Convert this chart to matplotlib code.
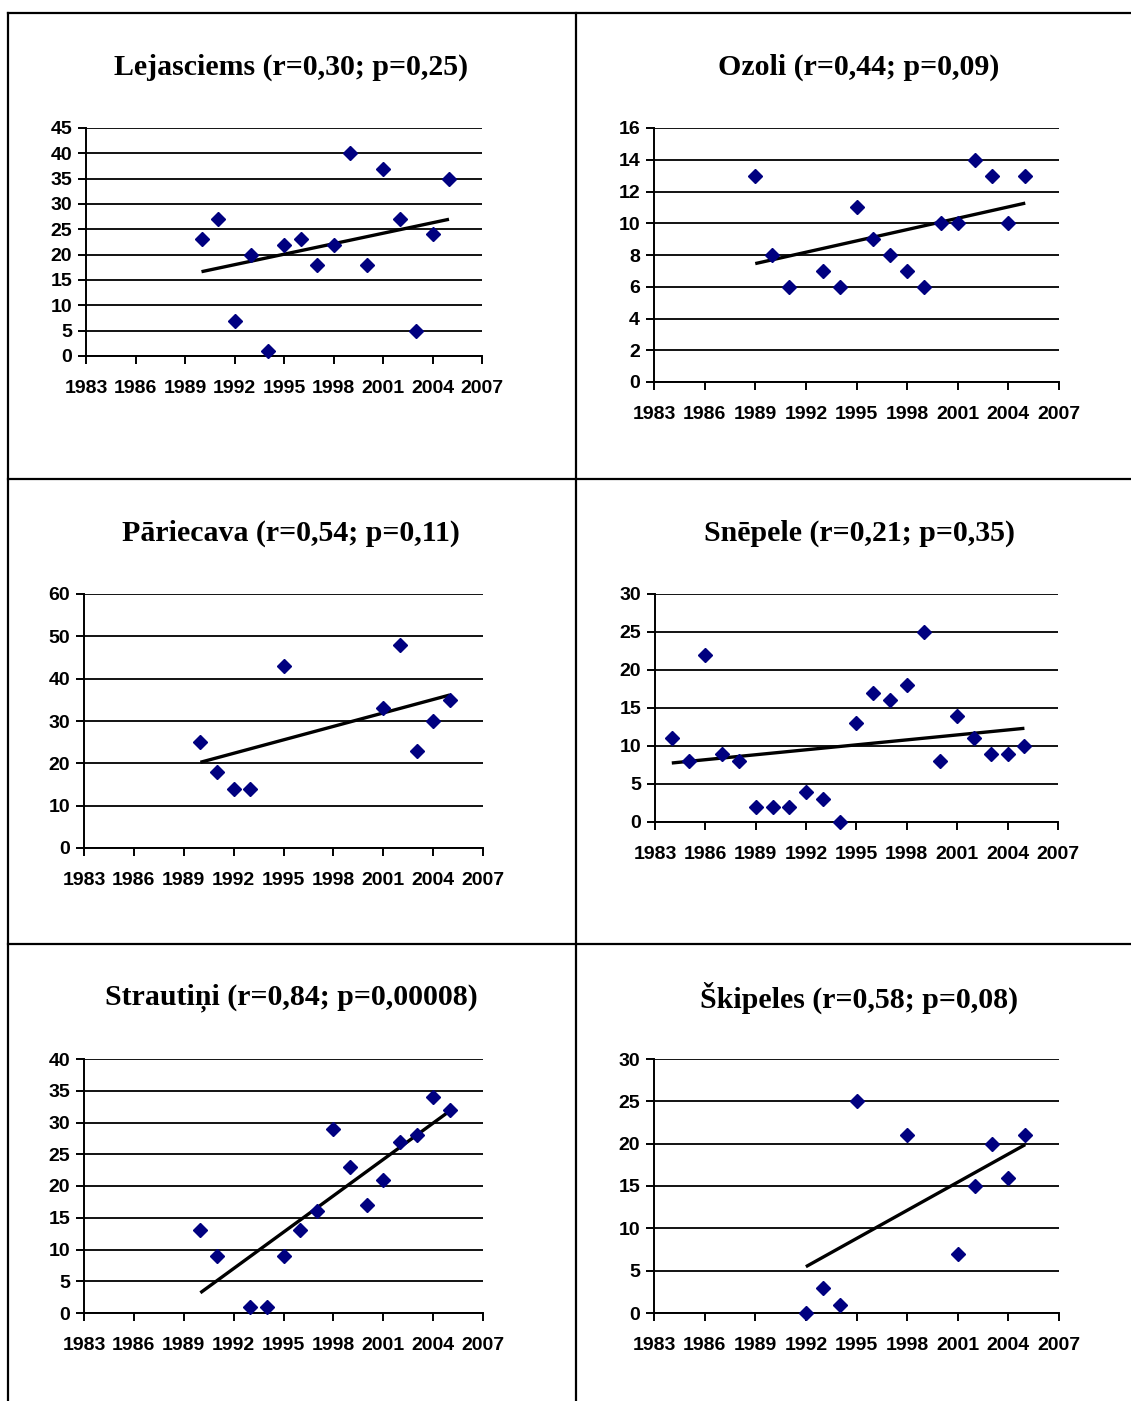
import numpy as np
import matplotlib
matplotlib.use("Agg")
import matplotlib.pyplot as plt
from matplotlib.lines import Line2D

# ---- data ----
lej_years = [1990, 1991, 1992, 1993, 1994, 1995, 1996, 1997, 1998, 1999, 2000, 2001, 2002, 2003, 2004, 2005]
lej_vals = [23, 27, 7, 20, 1, 22, 23, 18, 22, 40, 18, 37, 27, 5, 24, 35]

ozo_years = [1989, 1990, 1991, 1993, 1994, 1995, 1996, 1997, 1998, 1999, 2000, 2001, 2002, 2003, 2004, 2005]
ozo_vals = [13, 8, 6, 7, 6, 11, 9, 8, 7, 6, 10, 10, 14, 13, 10, 13]

par_years = [1990, 1991, 1992, 1993, 1995, 2001, 2002, 2003, 2004, 2005]
par_vals = [25, 18, 14, 14, 43, 33, 48, 23, 30, 35]

sne_years = [1984, 1985, 1986, 1987, 1988, 1989, 1990, 1991, 1992, 1993, 1994,
             1995, 1996, 1997, 1998, 1999, 2000, 2001, 2002, 2003, 2004, 2005]
sne_vals = [11, 8, 22, 9, 8, 2, 2, 2, 4, 3, 0, 13, 17, 16, 18, 25, 8, 14, 11, 9, 9, 10]

str_years = [1990, 1991, 1993, 1994, 1995, 1996, 1997, 1998, 1999, 2000, 2001, 2002, 2003, 2004, 2005]
str_vals = [13, 9, 1, 1, 9, 13, 16, 29, 23, 17, 21, 27, 28, 34, 32]

ski_years = [1992, 1993, 1994, 1995, 1998, 2001, 2002, 2003, 2004, 2005]
ski_vals = [0, 3, 1, 25, 21, 7, 15, 20, 16, 21]

titles = ["Lejasciems (r=0,30; p=0,25)", "Ozoli (r=0,44; p=0,09)",
          "Pāriecava (r=0,54; p=0,11)", "Snēpele (r=0,21; p=0,35)",
          "Strautiņi (r=0,84; p=0,00008)", "Škipeles (r=0,58; p=0,08)"]
x_ticks = [1983, 1986, 1989, 1992, 1995, 1998, 2001, 2004, 2007]
y_max = [45, 16, 60, 30, 40, 30]
y_step = [5, 2, 10, 5, 5, 5]

series = [(lej_years, lej_vals), (ozo_years, ozo_vals), (par_years, par_vals),
          (sne_years, sne_vals), (str_years, str_vals), (ski_years, ski_vals)]

# ---- layout (pixels) ----
W, H = 1131, 1401
fig = plt.figure(figsize=(W / 100, H / 100), dpi=100)

# axes rectangles: left, right, top, bottom in pixels
rects = [(86, 482, 128, 356), (654, 1059, 128, 382),
         (84, 483, 594, 848), (655, 1058, 594, 822),
         (84, 483, 1059, 1313), (654, 1059, 1059, 1313)]
title_pos = [(291, 67), (859, 67), (291, 533), (859, 533), (291, 998), (859, 998)]

for i, ((xs, ys), (l, r, t, b)) in enumerate(zip(series, rects)):
    ax = fig.add_axes([l / W, 1 - b / H, (r - l) / W, (b - t) / H])
    ax.set_xlim(1983, 2007)
    ax.set_ylim(0, y_max[i])
    ax.set_xticks(x_ticks)
    ax.set_yticks(np.arange(0, y_max[i] + 0.1, y_step[i]))
    for spine in ["top", "right"]:
        ax.spines[spine].set_visible(False)
    for spine in ["left", "bottom"]:
        ax.spines[spine].set_linewidth(1.4)
        ax.spines[spine].set_color("black")
    ax.yaxis.grid(True, color="black", linewidth=1.3)
    ax.set_axisbelow(True)
    ax.tick_params(axis="both", direction="out", length=6, width=1.4, color="black",
                   labelsize=14, pad=4)
    for lab in ax.get_xticklabels() + ax.get_yticklabels():
        lab.set_fontfamily("Liberation Sans")
        lab.set_fontweight("bold")
    ax.tick_params(axis="x", pad=11)
    # trend line
    xa = np.array(xs, dtype=float)
    ya = np.array(ys, dtype=float)
    k, c = np.polyfit(xa, ya, 1)
    xt = np.array([xa.min(), xa.max()])
    ax.plot(xt, k * xt + c, color="black", linewidth=2.4, zorder=3, solid_capstyle="butt")
    ax.plot(xs, ys, linestyle="none", marker="D", markersize=7.5, color="#000080",
            markeredgecolor="#000080", zorder=4, clip_on=False)
    tx, ty = title_pos[i]
    fig.text(tx / W, 1 - ty / H, titles[i], ha="center", va="center",
             fontsize=21.5, fontweight="bold", family="Liberation Serif")

# ---- table borders ----
def fl(x0, y0, x1, y1):
    fig.add_artist(Line2D([x0 / W, x1 / W], [1 - y0 / H, 1 - y1 / H],
                          color="black", linewidth=1.6, transform=fig.transFigure))

fl(7.5, 13, W, 13)
fl(7.5, 479, W, 479)
fl(7.5, 944, W, 944)
fl(7.5, 13, 7.5, H)
fl(576, 13, 576, H)

fig.savefig("out.png", dpi=100, facecolor="white")
